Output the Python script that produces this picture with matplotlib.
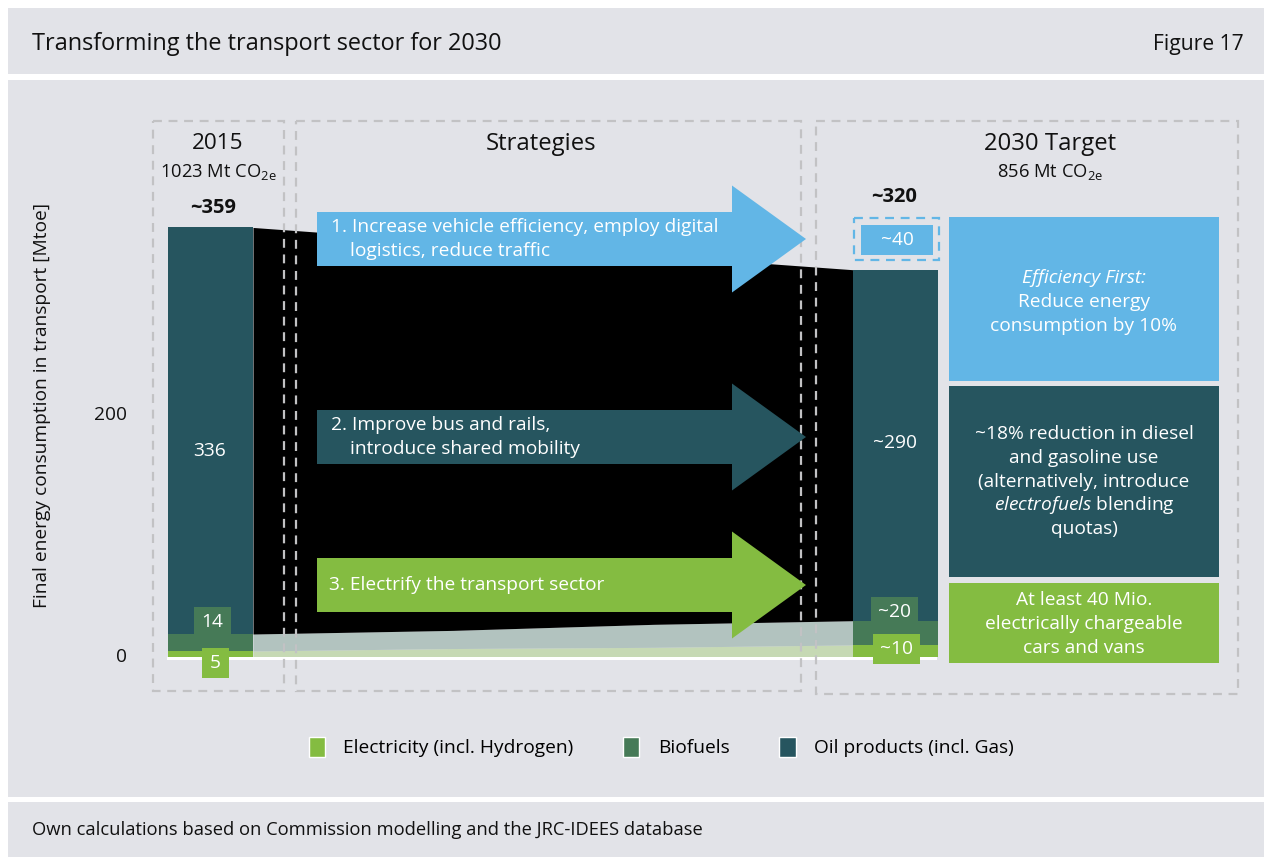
"""Transforming the transport sector for 2030 - flow chart of energy use."""

import matplotlib.pyplot as plt
import numpy as np
from matplotlib.patches import FancyArrow, Patch, Rectangle

plt.rcParams["font.family"] = "Open Sans"
plt.rcParams["mathtext.fontset"] = "custom"
plt.rcParams["mathtext.rm"] = "Open Sans"
plt.rcParams["mathtext.it"] = "Open Sans:italic"

# ---- data -------------------------------------------------------------
bar_years = ["2015", "2030"]
bar_elec = [5, 10]
bar_bio = [14, 20]
bar_oil = [336, 290]
bar_totals = ["~359", "~320"]
bar_co2 = [1023, 856]
saving_2030 = 40

flow_years = [2015, 2020, 2025, 2030]
flow_elec = [5, 7, 8, 10]
flow_bio = [14, 15, 19, 20]
flow_total = [355, 343, 332, 320]

y_ticks = [0, 200]

strategies = [
    ("1. Increase vehicle efficiency, employ digital", "logistics, reduce traffic"),
    ("2. Improve bus and rails,", "introduce shared mobility"),
    ("3. Electrify the transport sector", None),
]
# lines wrapped in * * are set in italics
target_notes = [
    ["*Efficiency First:*", "Reduce energy", "consumption by 10%"],
    ["~18% reduction in diesel", "and gasoline use", "(alternatively, introduce",
     "$\\mathit{electrofuels}$ blending", "quotas)"],
    ["At least 40 Mio.", "electrically chargeable", "cars and vans"],
]
legend_labels = ["Electricity (incl. Hydrogen)", "Biofuels", "Oil products (incl. Gas)"]

# ---- style ------------------------------------------------------------
BG = "#e2e3e8"
OIL = "#26555f"
BIO = "#467a57"
ELEC = "#84bc41"
BLUE = "#62b6e6"
FLOW_BIO = "#b2c3bf"
FLOW_ELEC = "#c6d9b4"
DASH = "#c2c2c4"
TXT = "#111111"
FS = 13.8

W, H = 1264, 857
ZERO_PX = 657
PX_PER_UNIT = 1.21
BAR_X = [210, 895.5]
BAR_W = 85
FLOW_X = (253, 854)

fig = plt.figure(figsize=(W / 100, H / 100), dpi=100)
fig.patch.set_facecolor("white")


def pixel_axes(z):
    a = fig.add_axes([0, 0, 1, 1], zorder=z)
    a.set_xlim(0, W)
    a.set_ylim(H, 0)
    a.axis("off")
    a.patch.set_alpha(0)
    return a


bg = pixel_axes(0)
ax = fig.add_axes([0, 0, 1, 1], zorder=1)
ax.set_xlim(0, W)
ax.set_ylim(-(H - ZERO_PX) / PX_PER_UNIT, ZERO_PX / PX_PER_UNIT)
ax.axis("off")
ax.patch.set_alpha(0)
fg = pixel_axes(2)

# ---- background panels ------------------------------------------------
for y0, h in [(8, 66), (80, 717), (802, 55)]:
    bg.add_patch(Rectangle((8, y0), W - 8, h, fc=BG, ec="none"))
bg.text(32, 44, "Transforming the transport sector for 2030", fontsize=16.9,
        color=TXT, va="center", ha="left")
bg.text(1244, 44, "Figure 17", fontsize=15.2, color=TXT, va="center", ha="right")
bg.text(32, 830, "Own calculations based on Commission modelling and the JRC-IDEES database",
        fontsize=13.2, color=TXT, va="center", ha="left")

# ---- flows and bars (data axes) ----------------------------------------
fy = np.array(flow_years)
fx = FLOW_X[0] + (fy - fy[0]) / (fy[-1] - fy[0]) * (FLOW_X[1] - FLOW_X[0])
fe = np.array(flow_elec)
fb = fe + np.array(flow_bio)
ax.fill_between(fx, 0, fe, color=FLOW_ELEC, lw=0)
ax.fill_between(fx, fe, fb, color=FLOW_BIO, lw=0)
ax.fill_between(fx, fb, flow_total, color="black", lw=0)

e = np.array(bar_elec)
b = np.array(bar_bio)
o = np.array(bar_oil)
ax.bar(BAR_X, e, width=BAR_W, color=ELEC, lw=0)
ax.bar(BAR_X, b, bottom=e, width=BAR_W, color=BIO, lw=0)
ax.bar(BAR_X, o, bottom=e + b, width=BAR_W, color=OIL, lw=0)
ax.fill_between([167, 937], -2.2, 0, color="white", lw=0)

for xc, bottom, val, pre, dy in zip(BAR_X, e + b, o, ["", "~"], [-17, 2]):
    ax.text(xc, bottom + val / 2 + dy, f"{pre}{val}", color="white", fontsize=FS,
            ha="center", va="center")

for t in y_ticks:
    ax.text(127, t, f"{t}", fontsize=FS, color=TXT, ha="right", va="center")
bg.text(42, 405, "Final energy consumption in transport [Mtoe]", rotation=90,
        fontsize=FS, color=TXT, ha="center", va="center")

# ---- dashed section boxes ---------------------------------------------
for x0, y0, x1, y1 in [(153, 121, 284, 691), (296, 121, 801, 691), (816, 121, 1238, 694)]:
    fg.add_patch(Rectangle((x0, y0), x1 - x0, y1 - y0, fill=False, ec=DASH,
                           lw=1.6, ls=(0, (4, 3))))

HEAD = 17.2
fg.text(218, 143, bar_years[0], fontsize=16.2, color=TXT, ha="center", va="center")
fg.text(218, 172, f"{bar_co2[0]} Mt CO$_{{\\mathrm{{2e}}}}$", fontsize=13.2, color=TXT,
        ha="center", va="center")
fg.text(541, 144, "Strategies", fontsize=HEAD, color=TXT, ha="center", va="center")
fg.text(1050, 144, f"{bar_years[1]} Target", fontsize=HEAD, color=TXT,
        ha="center", va="center")
fg.text(1050, 172, f"{bar_co2[1]} Mt CO$_{{\\mathrm{{2e}}}}$", fontsize=13.2, color=TXT,
        ha="center", va="center")
fg.text(213, 208, bar_totals[0], fontsize=14.5, fontweight="bold", color=TXT,
        ha="center", va="center")
fg.text(894, 197, bar_totals[1], fontsize=14.5, fontweight="bold", color=TXT,
        ha="center", va="center")

# ---- value badges -----------------------------------------------------
badges = [
    (194, 607, 37, 30, f"{bar_bio[0]}", BIO),
    (202, 648, 27, 30, f"{bar_elec[0]}", ELEC),
    (871, 597, 47, 24, f"~{bar_bio[1]}", BIO),
    (873, 634, 47, 30, f"~{bar_elec[1]}", ELEC),
]
for x0, y0, w, h, label, col in badges:
    fg.add_patch(Rectangle((x0, y0), w, h, fc=col, ec="none"))
    fg.text(x0 + w / 2, y0 + 15, label, color="white",
            fontsize=FS, ha="center", va="center")

fg.add_patch(Rectangle((854, 218), 85, 42, fill=False, ec=BLUE, lw=1.6, ls=(0, (4, 3))))
fg.add_patch(Rectangle((861, 225), 72, 30, fc=BLUE, ec="none"))
fg.text(897, 240, f"~{saving_2030}", color="white", fontsize=FS, ha="center", va="center")

# ---- strategy arrows --------------------------------------------------
arrow_cols = [BLUE, OIL, ELEC]
arrow_y = [239, 437, 585]
for (l1, l2), col, yc in zip(strategies, arrow_cols, arrow_y):
    fg.add_patch(FancyArrow(317, yc, 806 - 317, 0, width=54, head_width=107,
                            head_length=74, length_includes_head=True, fc=col, ec="none"))
    if l2 is None:
        fg.text(329, yc, l1, color="white", fontsize=FS, ha="left", va="center")
    else:
        fg.text(331, yc - 12, l1, color="white", fontsize=FS, ha="left", va="center")
        fg.text(350, yc + 12, l2, color="white", fontsize=FS, ha="left", va="center")

# ---- target notes -----------------------------------------------------
for (y0, y1), col, lines, dy in zip([(217, 381), (386, 577), (583, 663)],
                                    [BLUE, OIL, ELEC], target_notes, [3, 0, 1]):
    fg.add_patch(Rectangle((949, y0), 270, y1 - y0, fc=col, ec="none"))
    yc = (y0 + y1) / 2 + dy
    n = len(lines)
    for i, line in enumerate(lines):
        italic = line.startswith("*") and line.endswith("*")
        fg.text(1084, yc + (i - (n - 1) / 2) * 24, line.strip("*"), color="white",
                fontsize=FS, ha="center", va="center",
                style="italic" if italic else "normal")

# ---- legend -----------------------------------------------------------
handles = [Patch(fc=c, ec="white", lw=1) for c in [ELEC, BIO, OIL]]
fg.legend(handles, legend_labels, ncol=3, loc="center", bbox_to_anchor=(661, 747),
          bbox_transform=fg.transData, frameon=False, fontsize=FS,
          handlelength=0.85, handleheight=1.25, handletextpad=0.95, columnspacing=2.6)

fig.savefig("out.png", dpi=100, facecolor="white")
